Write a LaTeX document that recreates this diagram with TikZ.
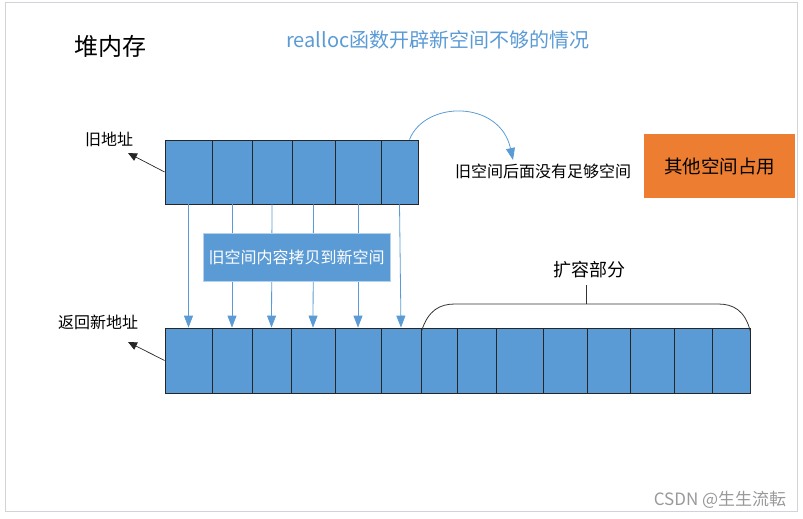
\documentclass[tikz,border=0pt]{standalone}
\usepackage{fontspec}
\setmainfont{Noto Sans CJK SC}
\usetikzlibrary{arrows.meta}
\definecolor{cellblue}{HTML}{5B9BD5}
\definecolor{boxorange}{HTML}{ED7D31}
\definecolor{framegray}{HTML}{D0D4D9}
\newcommand{\fs}[1]{\fontsize{#1}{#1}\selectfont}

\begin{document}
\begin{tikzpicture}[x=1pt,y=-1pt,
  every node/.style={font=\fs{16},inner sep=0pt},
  cell/.style={draw=black!85,fill=cellblue,line width=0.8pt,minimum height=64pt},
  copyline/.style={cellblue,line width=0.8pt,-{Triangle[width=9pt,length=12pt]}},
  addrline/.style={black!85,line width=0.7pt,-{Triangle[width=8pt,length=9pt]}}]
\useasboundingbox (0,0) rectangle (803,519);
\draw[framegray,line width=1pt] (5,3) rectangle (797,511);
% titles
\node[font=\fs{24}] (heap) at (110,46) {堆内存};
\node[font=\fs{20},text=cellblue] (title) at (438,40) {realloc函数开辟新空间不够的情况};
% old block and new block
\foreach \a/\b [count=\i] in {165/212,212/252,252/292,292/335,335/381,381/418}
  \node[cell,minimum width=(\b-\a)*1pt] (o\i) at ({(\a+\b)/2},172) {};
\foreach \a/\b [count=\i] in {165/212,212/252,252/291,291/335,335/381,381/421,421/457,
    457/496,496/543,543/587,587/630,630/674,674/712,712/750}
  \node[cell,minimum width=(\b-\a)*1pt,minimum height=65pt] (n\i) at ({(\a+\b)/2},360.5) {};
% copy arrows
\foreach \i in {1,...,6}
  \draw[copyline] (o\i.south) -- (n\i.north);
\node[fill=cellblue,draw=cellblue!45,line width=1pt,minimum width=187pt,minimum height=48pt,
  text=white] (copynote) at (296.5,257) {旧空间内容拷贝到新空间};
% no room behind the old block
\coordinate (gapend) at (513,160);
\draw[copyline] ([xshift=10pt]o6.north) .. controls (425,100) and (500,100) .. (gapend);
\node (nogap) at (543,171) {旧空间后面没有足够空间};
\node[fill=boxorange,minimum width=151pt,minimum height=64pt,font=\fs{18.5}] (other) at (719.5,166) {其他空间占用};
% addresses
\coordinate (oldtip) at (128,153);
\coordinate (newtip) at (128,342);
\draw[addrline] (o1.west) -- (oldtip);
\draw[addrline] (n1.west) -- (newtip);
\node (oldaddr) at (109,139) {旧地址};
\node (newaddr) at (98,322) {返回新地址};
% brace over the added part
\draw[black!80,line width=0.8pt] ([yshift=-4pt]n6.north east) .. controls (428,310) and (440,304) .. (455,304)
  -- (718,304) .. controls (733,304) and (745,310) .. ([yshift=-4pt]n14.north east);
\draw[black!80,line width=0.8pt] (586,304) -- (586,285);
\node[font=\fs{18}] (grow) at (589,270) {扩容部分};
\node[font=\fs{17},text=black!40] (mark) at (720,500) {CSDN @生生流転};
\end{tikzpicture}
\end{document}
